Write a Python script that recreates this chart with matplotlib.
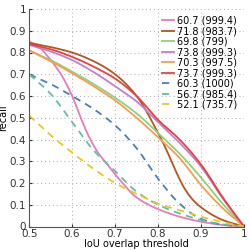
import matplotlib
matplotlib.use("Agg")
import matplotlib.pyplot as plt
import numpy as np

thr = [0.5, 0.55, 0.6, 0.65, 0.7, 0.75, 0.8, 0.85, 0.9, 0.95, 1.0]

labels = ["60.7 (999.4)", "71.8 (983.7)", "69.8 (799)", "73.8 (999.3)", "70.3 (997.5)",
          "73.7 (999.3)", "60.3 (1000)", "56.7 (985.4)", "52.1 (735.7)"]

pink_x = [0.5, 0.52, 0.54, 0.56, 0.58, 0.6, 0.62, 0.64, 0.66, 0.68, 0.7, 0.72, 0.74, 0.76, 0.8, 0.85, 0.9, 0.95, 1.0]
pink_y = [0.85, 0.83, 0.79, 0.74, 0.68, 0.60, 0.50, 0.41, 0.34, 0.29, 0.24, 0.195, 0.15, 0.12, 0.08, 0.045, 0.022, 0.007, 0.0]
brown_x = [0.5, 0.55, 0.6, 0.65, 0.7, 0.75, 0.8, 0.82, 0.84, 0.86, 0.88, 0.9, 0.95, 1.0]
brown_y = [0.845, 0.825, 0.80, 0.76, 0.70, 0.60, 0.43, 0.35, 0.26, 0.18, 0.125, 0.088, 0.03, 0.0]
green = [0.81, 0.765, 0.712, 0.655, 0.592, 0.52, 0.43, 0.335, 0.225, 0.105, 0.0]
purple = [0.835, 0.805, 0.765, 0.71, 0.645, 0.575, 0.48, 0.385, 0.275, 0.13, 0.0]
orange = [0.81, 0.76, 0.705, 0.645, 0.58, 0.50, 0.41, 0.315, 0.19, 0.085, 0.0]
red = [0.84, 0.815, 0.78, 0.735, 0.68, 0.60, 0.49, 0.40, 0.285, 0.135, 0.0]
blue = [0.70, 0.655, 0.60, 0.54, 0.465, 0.36, 0.22, 0.105, 0.035, 0.008, 0.0]
teal = [0.70, 0.61, 0.48, 0.35, 0.255, 0.16, 0.10, 0.06, 0.03, 0.01, 0.0]
yellow = [0.51, 0.42, 0.34, 0.265, 0.20, 0.15, 0.105, 0.075, 0.045, 0.02, 0.0]

colors = ["#e87bbf", "#b5561f", "#8fd07d", "#c17fd0", "#f0a050",
          "#e84040", "#4a7fb5", "#5fbfa5", "#e8c820"]


def smooth(x, y, n=200):
    # monotone cubic interpolation through the read-off points
    x = np.asarray(x, float)
    y = np.asarray(y, float)
    xs = np.linspace(x[0], x[-1], n)
    h = np.diff(x)
    d = np.diff(y) / h
    m = np.zeros_like(y)
    m[0], m[-1] = d[0], d[-1]
    for i in range(1, len(y) - 1):
        if d[i - 1] * d[i] > 0:
            w1 = 2 * h[i] + h[i - 1]
            w2 = h[i] + 2 * h[i - 1]
            m[i] = (w1 + w2) / (w1 / d[i - 1] + w2 / d[i])
    idx = np.clip(np.searchsorted(x, xs) - 1, 0, len(x) - 2)
    t = (xs - x[idx]) / h[idx]
    h00 = 2 * t**3 - 3 * t**2 + 1
    h10 = t**3 - 2 * t**2 + t
    h01 = -2 * t**3 + 3 * t**2
    h11 = t**3 - t**2
    ys = h00 * y[idx] + h10 * h[idx] * m[idx] + h01 * y[idx + 1] + h11 * h[idx] * m[idx + 1]
    return xs, ys


series = [(pink_x, pink_y), (brown_x, brown_y), (thr, green), (thr, purple), (thr, orange),
          (thr, red), (thr, blue), (thr, teal), (thr, yellow)]

fig = plt.figure(figsize=(2.49, 2.5), dpi=100)
ax = fig.add_axes([0.117, 0.094, 0.863, 0.870])

for i, (x, y) in enumerate(series):
    xs, ys = smooth(x, y)
    ls = (0, (4, 3)) if i >= 6 else "-"
    ax.plot(xs, ys, color=colors[i], lw=1.3, ls=ls, label=labels[i])

ax.set_xlim(0.5, 1)
ax.set_ylim(0, 1)
ax.set_xticks([0.5, 0.6, 0.7, 0.8, 0.9, 1.0], ["0.5", "0.6", "0.7", "0.8", "0.9", "1"])
ax.set_yticks(np.arange(0, 1.01, 0.1), ["0"] + ["%.1f" % v for v in np.arange(0.1, 0.95, 0.1)] + ["1"])
ax.tick_params(labelsize=7.5, direction="in", length=2, colors="#333333")
ax.tick_params(axis="x", pad=1.5)
ax.tick_params(axis="y", pad=2)
ax.grid(True, ls=(0, (1, 3)), color="#aaaaaa", lw=0.7)
for s in ["top", "right"]:
    ax.spines[s].set_visible(False)
for s in ["left", "bottom"]:
    ax.spines[s].set_color("#555555")
ax.set_xlabel("IoU overlap threshold", fontsize=7, labelpad=0)
ax.set_ylabel("recall", fontsize=7, labelpad=1)
ax.legend(loc="upper right", fontsize=7, frameon=False, handlelength=1.2,
          handletextpad=0.3, labelspacing=0.05, borderaxespad=0.3)

plt.savefig("out.png", dpi=100)
